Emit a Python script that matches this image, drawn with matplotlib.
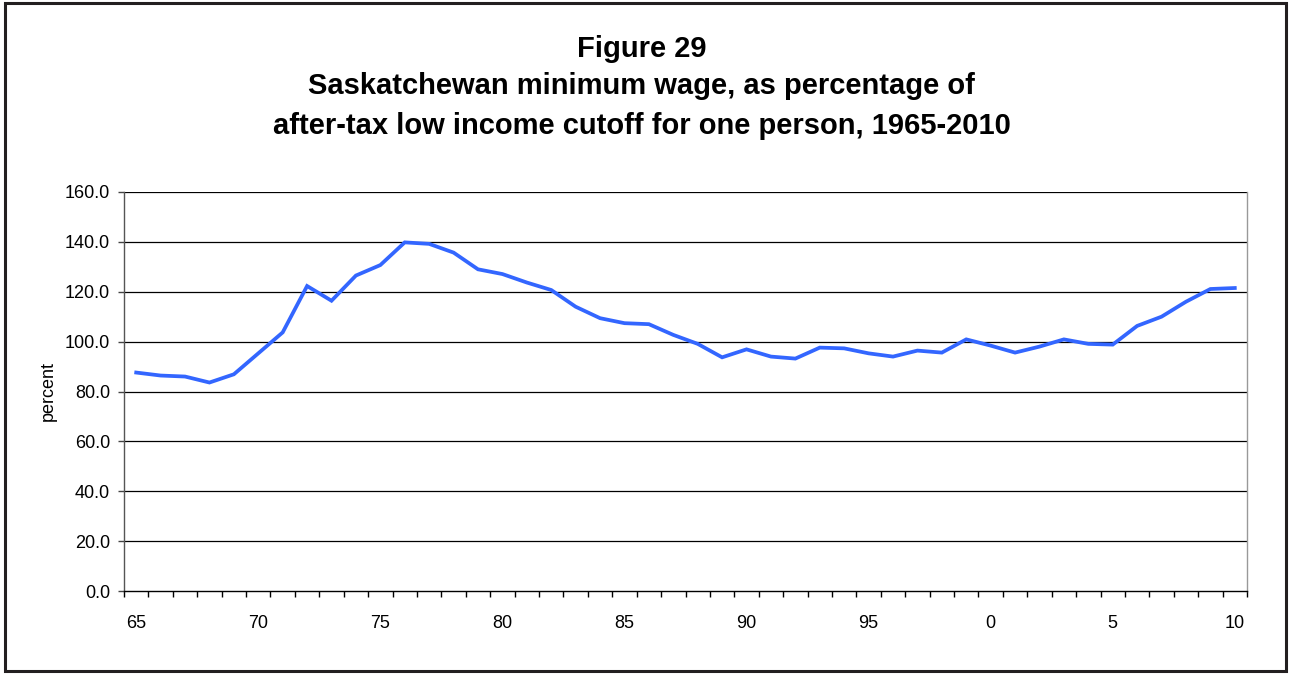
import matplotlib.pyplot as plt
from matplotlib.patches import Rectangle
from matplotlib.ticker import FixedLocator, FuncFormatter

plt.rcParams['font.family'] = ['Liberation Sans', 'DejaVu Sans']

years = list(range(1965, 2011))
pct = [87.6, 86.4, 86.0, 83.6, 86.9, 95.3, 103.7, 122.3, 116.4, 126.5,
       130.7, 139.8, 139.2, 135.7, 129.0, 127.1, 123.7, 120.7, 114.0, 109.4,
       107.4, 107.0, 102.7, 99.1, 93.7, 96.9, 94.0, 93.2, 97.6, 97.3,
       95.3, 94.0, 96.4, 95.6, 100.9, 98.4, 95.6, 98.0, 100.9, 99.1,
       98.8, 106.3, 110.0, 116.0, 121.1, 121.5]
label_years = [1965, 1970, 1975, 1980, 1985, 1990, 1995, 2000, 2005, 2010]
yticks = [0, 20, 40, 60, 80, 100, 120, 140, 160]

title_lines = ["Figure 29",
               "Saskatchewan minimum wage, as percentage of",
               "after-tax low income cutoff for one person, 1965-2010"]
title_baselines = [57, 94, 134]   # pixel rows from the top

W, H = 1291, 675
fig = plt.figure(figsize=(W / 100, H / 100), dpi=100)
fig.patch.set_facecolor('white')

# outer frame around the whole chart
fig.add_artist(Rectangle((0.0035, 0.006), 0.993, 0.989, transform=fig.transFigure,
                         fill=False, edgecolor='#231f20', linewidth=2.2))

ax = fig.add_axes([124 / W, 1 - 591 / H, (1247 - 124) / W, (591 - 192) / H])
ax.plot(years, pct, color='#3366ff', linewidth=2.7, solid_joinstyle='miter')

ax.set_xlim(years[0] - 0.5, years[-1] + 0.5)
ax.set_ylim(0, 160)

ax.set_yticks(yticks)
ax.yaxis.set_major_formatter(FuncFormatter(lambda v, p: f'{v:.1f}'))
for v in yticks[1:]:
    ax.axhline(v, color='black', linewidth=0.9, zorder=0)

# category axis: tick marks between years, labels every 5 years
ax.xaxis.set_major_locator(FixedLocator(label_years))
ax.xaxis.set_major_formatter(FuncFormatter(lambda v, p: f'{int(v) % 100}'))
ax.xaxis.set_minor_locator(FixedLocator([y - 0.5 for y in years] + [years[-1] + 0.5]))
ax.tick_params(axis='x', which='major', length=0, pad=17, labelsize=13)
ax.tick_params(axis='x', which='minor', length=4.5, width=1, color='black')
ax.tick_params(axis='y', length=4.5, width=1, color='#444444', labelsize=13, pad=5.5)

ax.spines['left'].set_color('#555555')
ax.spines['right'].set_color('#999999')
ax.spines['top'].set_visible(False)
ax.spines['bottom'].set_color('black')
for s in ax.spines.values():
    s.set_linewidth(1)

ax.set_ylabel('percent', fontsize=13, labelpad=6)

for line, yb in zip(title_lines, title_baselines):
    fig.text(641.5 / W, 1 - yb / H, line, ha='center', va='baseline',
             fontsize=21, fontweight='bold')

fig.savefig('out.png', dpi=100)
